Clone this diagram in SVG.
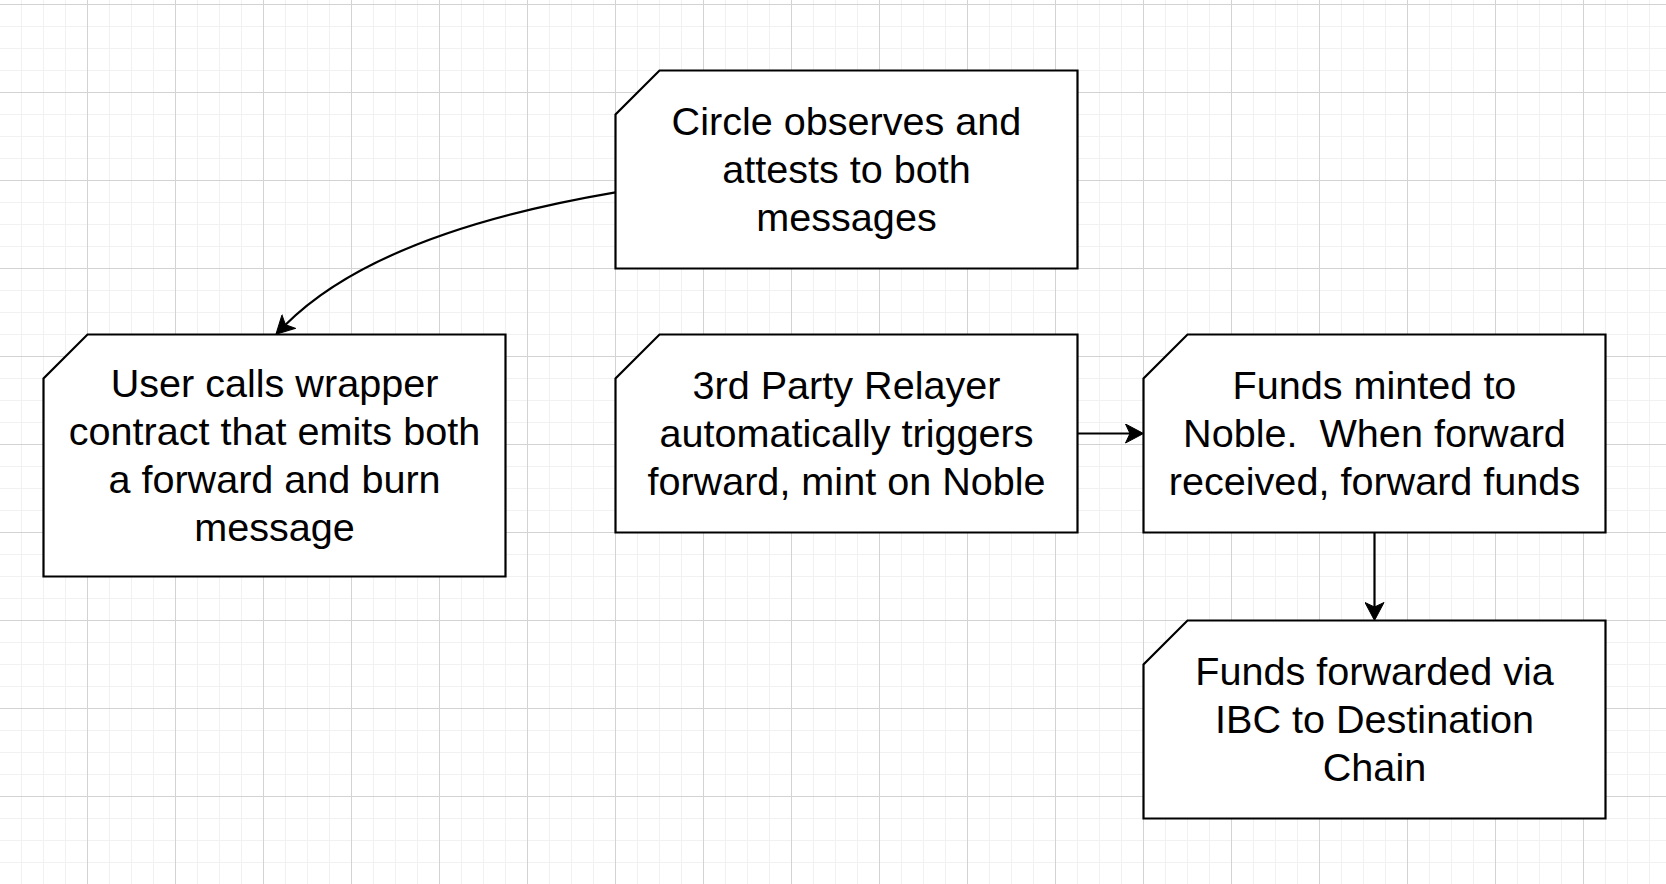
<svg xmlns="http://www.w3.org/2000/svg" width="1666" height="884" viewBox="0 0 1666 884">
<style>
.minor{stroke:#f1f1f1;stroke-width:1;fill:none}
.major{stroke:#d3d3d3;stroke-width:1;fill:none}
.box{fill:#ffffff;stroke:#000000;stroke-width:2.2}
.lbl{font-family:"Liberation Sans",Arial,Helvetica,sans-serif;font-size:39.6px;fill:#000000;text-anchor:middle;white-space:pre}
.edge{fill:none;stroke:#000000;stroke-width:2.2}
</style>
<defs>
<marker id="arr" viewBox="-19 -10 20 20" refX="-13.5" refY="0" markerWidth="20" markerHeight="20" markerUnits="userSpaceOnUse" orient="auto">
<path d="M0,0 L-18,-9.5 L-13.5,0 L-18,9.5 Z" fill="#000000" stroke="#000000" stroke-width="1" stroke-linejoin="miter"/>
</marker>
</defs>
<rect x="0" y="0" width="1666" height="884" fill="#ffffff"/>
<g id="grid">
<path class="minor" d="M21.5 0V884M43.5 0V884M65.5 0V884M109.5 0V884M131.5 0V884M153.5 0V884M197.5 0V884M219.5 0V884M241.5 0V884M285.5 0V884M307.5 0V884M329.5 0V884M373.5 0V884M395.5 0V884M417.5 0V884M461.5 0V884M483.5 0V884M505.5 0V884M549.5 0V884M571.5 0V884M593.5 0V884M637.5 0V884M659.5 0V884M681.5 0V884M725.5 0V884M747.5 0V884M769.5 0V884M813.5 0V884M835.5 0V884M857.5 0V884M901.5 0V884M923.5 0V884M945.5 0V884M989.5 0V884M1011.5 0V884M1033.5 0V884M1077.5 0V884M1099.5 0V884M1121.5 0V884M1165.5 0V884M1187.5 0V884M1209.5 0V884M1253.5 0V884M1275.5 0V884M1297.5 0V884M1341.5 0V884M1363.5 0V884M1385.5 0V884M1429.5 0V884M1451.5 0V884M1473.5 0V884M1517.5 0V884M1539.5 0V884M1561.5 0V884M1605.5 0V884M1627.5 0V884M1649.5 0V884
M0 26.5H1666M0 48.5H1666M0 70.5H1666M0 114.5H1666M0 136.5H1666M0 158.5H1666M0 202.5H1666M0 224.5H1666M0 246.5H1666M0 290.5H1666M0 312.5H1666M0 334.5H1666M0 378.5H1666M0 400.5H1666M0 422.5H1666M0 466.5H1666M0 488.5H1666M0 510.5H1666M0 554.5H1666M0 576.5H1666M0 598.5H1666M0 642.5H1666M0 664.5H1666M0 686.5H1666M0 730.5H1666M0 752.5H1666M0 774.5H1666M0 818.5H1666M0 840.5H1666M0 862.5H1666"/>
<path class="major" d="M87.5 0V884M175.5 0V884M263.5 0V884M351.5 0V884M439.5 0V884M527.5 0V884M615.5 0V884M703.5 0V884M791.5 0V884M879.5 0V884M967.5 0V884M1055.5 0V884M1143.5 0V884M1231.5 0V884M1319.5 0V884M1407.5 0V884M1495.5 0V884M1583.5 0V884
M0 4.5H1666M0 92.5H1666M0 180.5H1666M0 268.5H1666M0 356.5H1666M0 444.5H1666M0 532.5H1666M0 620.5H1666M0 708.5H1666M0 796.5H1666"/>
</g>
<g id="connectors">
<path class="edge" d="M615.5,192.3 Q377.6,232.7 285.5,324.8" marker-end="url(#arr)"/>
<path class="edge" d="M1077.5,433.5 H1130" marker-end="url(#arr)"/>
<path class="edge" d="M1374.5,532.5 V607" marker-end="url(#arr)"/>
</g>
<g id="circle">
<path class="box" d="M659.5,70.5 H1077.5 V268.5 H615.5 V114.5 Z"/>
<text class="lbl" x="846.5" y="135.35">Circle observes and</text>
<text class="lbl" x="846.5" y="183.35">attests to both</text>
<text class="lbl" x="846.5" y="231.35">messages</text>
</g>
<g id="user">
<path class="box" d="M87.5,334.5 H505.5 V576.5 H43.5 V378.5 Z"/>
<text class="lbl" x="274.5" y="397.35">User calls wrapper</text>
<text class="lbl" x="274.5" y="445.35">contract that emits both</text>
<text class="lbl" x="274.5" y="493.35">a forward and burn</text>
<text class="lbl" x="274.5" y="541.35">message</text>
</g>
<g id="relayer">
<path class="box" d="M659.5,334.5 H1077.5 V532.5 H615.5 V378.5 Z"/>
<text class="lbl" x="846.5" y="399.35">3rd Party Relayer</text>
<text class="lbl" x="846.5" y="447.35">automatically triggers</text>
<text class="lbl" x="846.5" y="495.35">forward, mint on Noble</text>
</g>
<g id="minted">
<path class="box" d="M1187.5,334.5 H1605.5 V532.5 H1143.5 V378.5 Z"/>
<text class="lbl" x="1374.5" y="399.35">Funds minted to</text>
<text class="lbl" x="1374.5" y="447.35" xml:space="preserve">Noble.  When forward</text>
<text class="lbl" x="1374.5" y="495.35">received, forward funds</text>
</g>
<g id="forwarded">
<path class="box" d="M1187.5,620.5 H1605.5 V818.5 H1143.5 V664.5 Z"/>
<text class="lbl" x="1374.5" y="685.35">Funds forwarded via</text>
<text class="lbl" x="1374.5" y="733.35">IBC to Destination</text>
<text class="lbl" x="1374.5" y="781.35">Chain</text>
</g>
</svg>
